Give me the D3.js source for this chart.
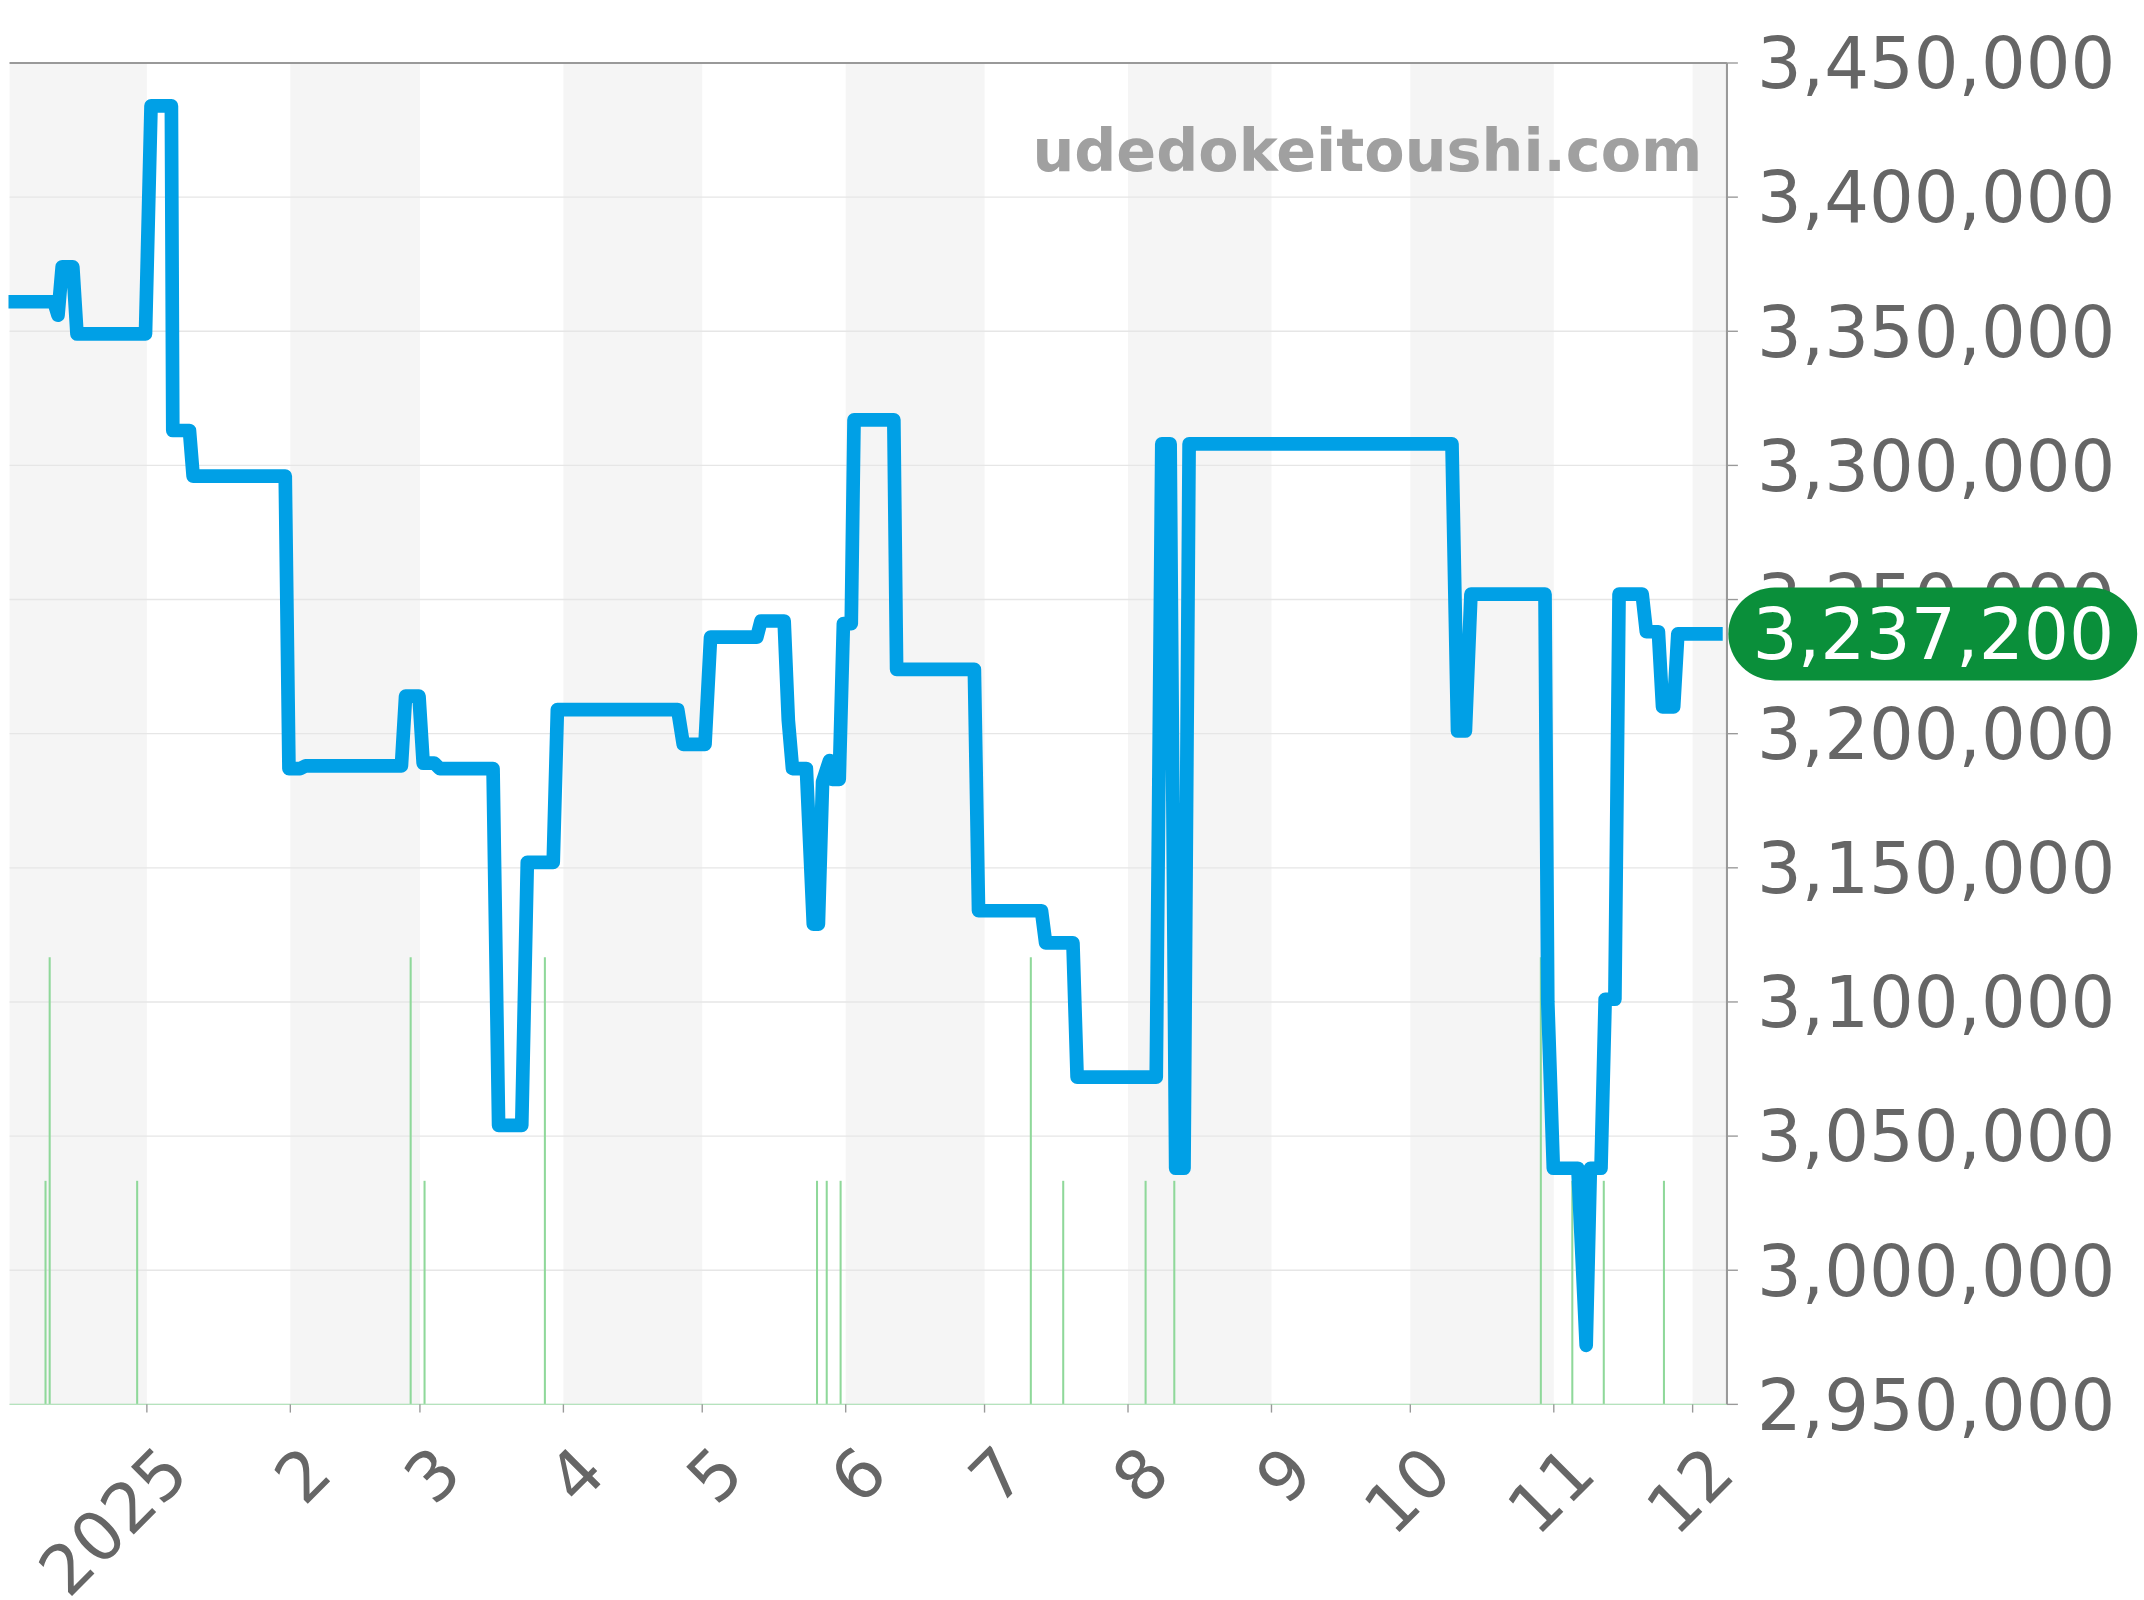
<!DOCTYPE html>
<html lang="en">
<head>
<meta charset="utf-8">
<title>Price chart</title>
<script src="https://d3js.org/d3.v7.min.js"></script>
<style>
  body { margin: 0; background: #fff; }
  text { font-family: "DejaVu Sans", sans-serif; }
</style>
</head>
<body>
<div id="chart"></div>
<script>
// day offsets from 2025-01-01 and prices
var priceDays = [-29.9,-20.1,-19.2,-18.3,-16,-15.1,-0.3,0.9,5.3,5.6,9.2,10,29.9,30.7,33.1,34.3,55,55.9,58.8,59.7,62.1,63.3,74.8,76,81,82.2,87.8,88.7,114.7,115.9,120.6,121.8,131.8,132.7,137.7,138.6,139.5,142.5,144,145.1,146,147.5,148.1,149.6,150.5,152.2,152.8,161.4,162,178.8,179.7,193.3,194.2,200.1,201,218.1,219.3,221.1,222.3,224.1,225.2,282,283.2,284.9,286.1,302.1,302.7,303.9,309.2,311,311.9,314.2,315.1,317.2,318.1,323.1,324,326.6,327.5,329.9,330.8,340.5];
var priceValues = [3361000,3361000,3356000,3374000,3374000,3349000,3349000,3434000,3434000,3313000,3313000,3296000,3296000,3187000,3187000,3188000,3188000,3214000,3214000,3189000,3189000,3187000,3187000,3054000,3054000,3152000,3152000,3209000,3209000,3196000,3196000,3236000,3236000,3242000,3242000,3205000,3187000,3187000,3129000,3129000,3182000,3190000,3183000,3183000,3241000,3241000,3317000,3317000,3224000,3224000,3134000,3134000,3122000,3122000,3072000,3072000,3308000,3308000,3038000,3038000,3308000,3308000,3201000,3201000,3252000,3252000,3100000,3038000,3038000,2972000,3038000,3038000,3101000,3101000,3252000,3252000,3238000,3238000,3210000,3210000,3237200,3237200];
var volDays = [-21,57,86,191,301.2,-21.9,-2.1,60,144.8,146.9,149.9,198,215.8,222,308,314.8,327.8];
var volCounts = [2,2,2,2,2,1,1,1,1,1,1,1,1,1,1,1,1];
var yTicks = [2950000,3000000,3050000,3100000,3150000,3200000,3250000,3300000,3350000,3400000,3450000];
var lastPrice = "3,237,200";

var W = 1568, H = 1170;
var L = 7, R = 1263, T = 46, B = 1027;
var base = new Date(2025, 0, 1);
function dayToDate(d) { return new Date(base.getTime() + d * 86400000); }

var svg = d3.select("#chart").append("svg")
  .attr("width", 2144).attr("height", 1600)
  .attr("viewBox", "0 0 " + W + " " + H);

var x = d3.scaleTime().domain([new Date(2024, 11, 2, 8), new Date(2025, 11, 8, 10)]).range([L, R]);
var y = d3.scaleLinear().domain([2950000, 3450000]).range([B, T]);
var yv = d3.scaleLinear().domain([0, 2]).range([B, 700]);

// month bands
var months = d3.timeMonth.range(new Date(2024, 11, 1), new Date(2026, 0, 1));
months.forEach(function (m, i) {
  if (i % 2 === 0) {
    var x0 = Math.max(L, x(m)), x1 = Math.min(R, x(d3.timeMonth.offset(m, 1)));
    svg.append("rect").attr("x", x0).attr("y", T).attr("width", x1 - x0).attr("height", B - T).attr("fill", "#f5f5f5");
  }
});

// grid
svg.selectAll(".grid").data(yTicks).enter().append("line")
  .attr("x1", L).attr("x2", R).attr("y1", function (d) { return y(d); }).attr("y2", function (d) { return y(d); })
  .attr("stroke", "#e6e6e6").attr("stroke-width", 1);
svg.append("line").attr("x1", L).attr("x2", R).attr("y1", T).attr("y2", T).attr("stroke", "#999").attr("stroke-width", 1.5);

// volume
svg.selectAll(".vol").data(volDays).enter().append("line")
  .attr("x1", function (d) { return x(dayToDate(d)); }).attr("x2", function (d) { return x(dayToDate(d)); })
  .attr("y1", B).attr("y2", function (d, i) { return yv(volCounts[i]); })
  .attr("stroke", "#8fd89a").attr("stroke-width", 1.5);
svg.append("line").attr("x1", L).attr("x2", R).attr("y1", B).attr("y2", B).attr("stroke", "#b5e3bd").attr("stroke-width", 1);

// watermark
svg.append("text").attr("x", 1245).attr("y", 125).attr("text-anchor", "end")
  .attr("font-size", 43).attr("font-weight", "bold").attr("fill", "#a0a0a0").text("udedokeitoushi.com");

// price line
var line = d3.line().x(function (d, i) { return x(dayToDate(d)); }).y(function (d, i) { return y(priceValues[i]); });
svg.append("path").datum(priceDays).attr("d", line).attr("fill", "none")
  .attr("stroke", "#00a0e6").attr("stroke-width", 10).attr("stroke-linejoin", "round");

// right axis
svg.append("line").attr("x1", R).attr("x2", R).attr("y1", T).attr("y2", B).attr("stroke", "#999").attr("stroke-width", 1.5);
yTicks.forEach(function (t) {
  svg.append("line").attr("x1", R).attr("x2", R + 8).attr("y1", y(t)).attr("y2", y(t)).attr("stroke", "#999");
  svg.append("text").attr("x", 1285).attr("y", y(t)).attr("dy", "0.36em").attr("font-size", 51.5)
    .attr("fill", "#666").text(d3.format(",")(t));
});

// x axis
var xt = d3.timeMonth.range(new Date(2025, 0, 1), new Date(2025, 11, 2));
xt.forEach(function (m) {
  var px = x(m);
  svg.append("line").attr("x1", px).attr("x2", px).attr("y1", B).attr("y2", B + 6).attr("stroke", "#999");
  svg.append("text").attr("transform", "translate(" + (px + 8) + "," + (B + 28) + ") rotate(-45)")
    .attr("text-anchor", "end").attr("dy", "0.7em").attr("font-size", 50).attr("fill", "#666")
    .text(m.getMonth() === 0 ? "2025" : String(m.getMonth() + 1));
});

// last price badge
var ly = y(3237200);
svg.append("rect").attr("x", 1264).attr("y", ly - 34).attr("width", 299).attr("height", 68).attr("rx", 34)
  .attr("fill", "#0a8f3a");
svg.append("text").attr("x", 1414).attr("y", ly).attr("dy", "0.36em").attr("text-anchor", "middle")
  .attr("font-size", 52).attr("fill", "#fff").text(lastPrice);
</script>
</body>
</html>
